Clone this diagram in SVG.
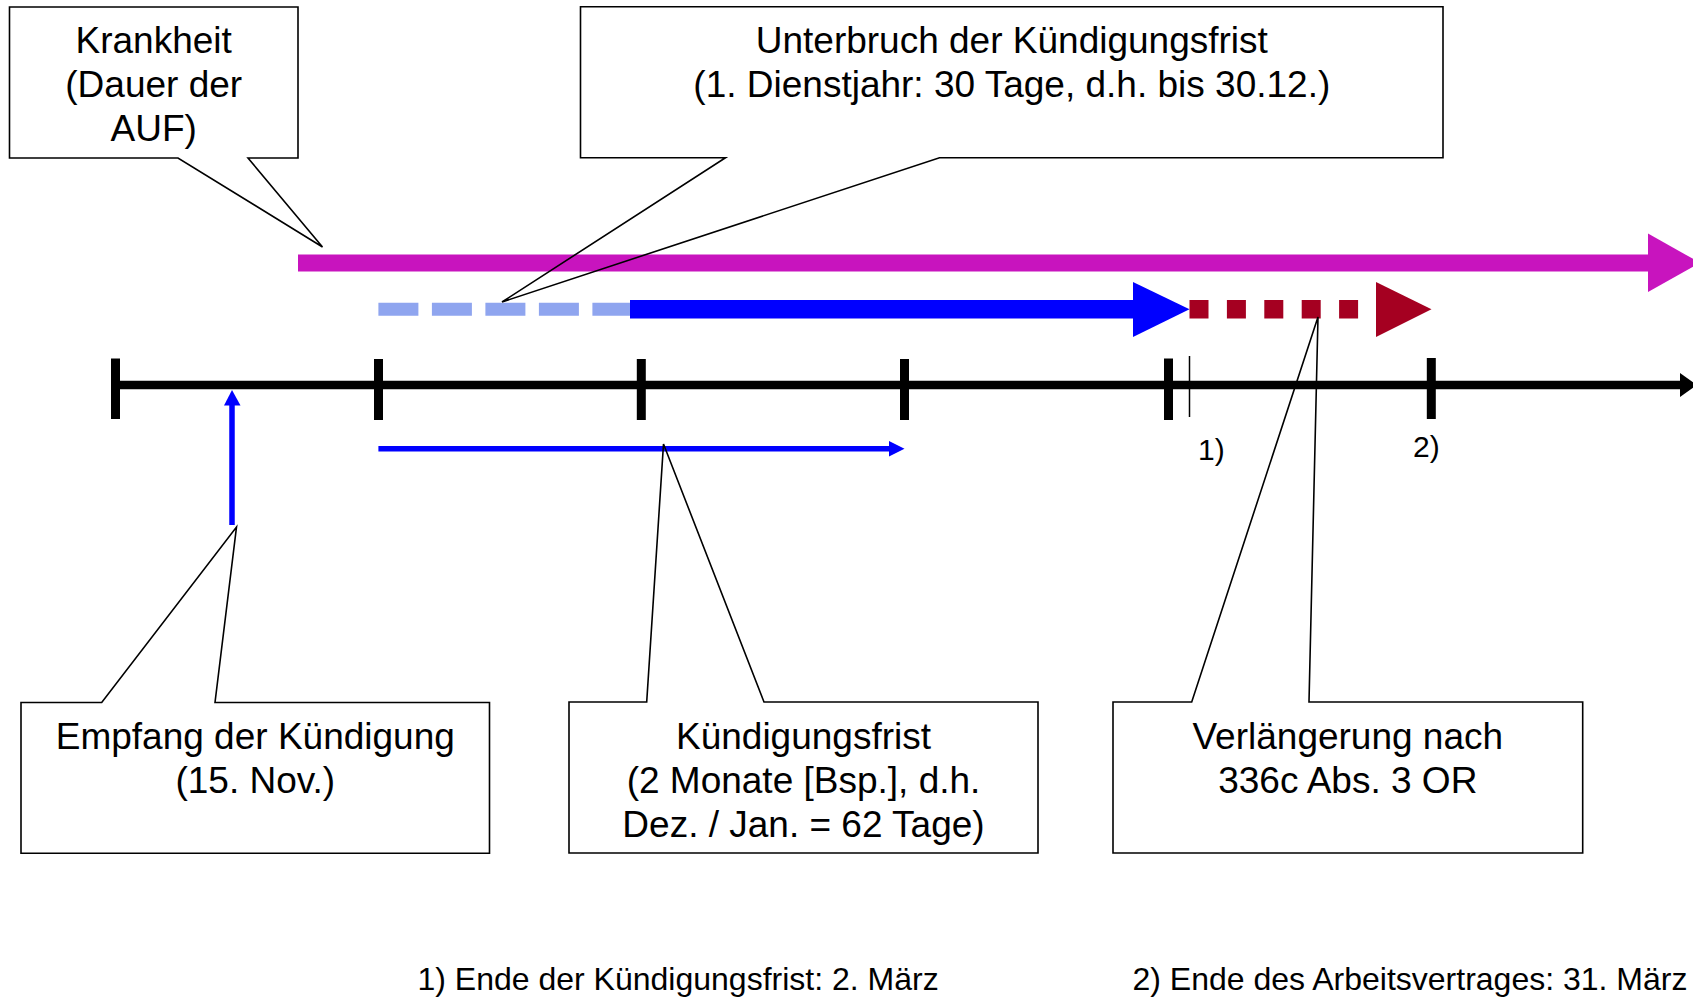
<svg xmlns="http://www.w3.org/2000/svg" width="1693" height="999" viewBox="0 0 1693 999">
<style>
.co{fill:none;stroke:#000;stroke-width:1.6;stroke-linejoin:miter}
.t{font-family:"Liberation Sans",Arial,Helvetica,sans-serif;font-size:37px;fill:#000;text-anchor:middle}
.n{font-family:"Liberation Sans",Arial,Helvetica,sans-serif;font-size:32px;fill:#000}
.tick{stroke:#000;stroke-width:9}
</style>
<rect width="1693" height="999" fill="#fff"/>
<g id="connectors">
  <!-- timeline -->
  <line x1="115.5" y1="385" x2="1682" y2="385" stroke="#000" stroke-width="8.5"/>
  <polygon points="1680,373 1697,385 1680,397" fill="#000"/>
  <line class="tick" x1="115.5" y1="358.5" x2="115.5" y2="419"/>
  <line class="tick" x1="378.5" y1="359" x2="378.5" y2="420"/>
  <line class="tick" x1="641.3" y1="359" x2="641.3" y2="420"/>
  <line class="tick" x1="904.5" y1="359" x2="904.5" y2="420"/>
  <line class="tick" x1="1168.5" y1="358.5" x2="1168.5" y2="420"/>
  <line class="tick" x1="1431.3" y1="358" x2="1431.3" y2="419"/>
  <line x1="1189.5" y1="356" x2="1189.5" y2="417" stroke="#000" stroke-width="1.5"/>
  <!-- magenta illness bar -->
  <rect x="298" y="254.5" width="1352" height="17" fill="#C814BE"/>
  <polygon points="1648,233.5 1700,262.8 1648,292" fill="#C814BE"/>
  <!-- light blue dashed interruption -->
  <line x1="378.4" y1="309.2" x2="630" y2="309.2" stroke="#8FA5EF" stroke-width="13" stroke-dasharray="40 13.5"/>
  <!-- blue notice period bar -->
  <rect x="630" y="300" width="505" height="18.5" fill="#0000FF"/>
  <polygon points="1133,282 1189.5,309.3 1133,337" fill="#0000FF"/>
  <!-- dark red extension -->
  <line x1="1189.5" y1="309.2" x2="1360" y2="309.2" stroke="#A50021" stroke-width="18.5" stroke-dasharray="19 18.4"/>
  <polygon points="1376,282 1431.5,309.3 1376,337" fill="#A50021"/>
  <!-- Kündigungsfrist thin arrow -->
  <line x1="378.4" y1="448.7" x2="891" y2="448.7" stroke="#0000FF" stroke-width="5.5"/>
  <polygon points="889,441 904.5,448.7 889,456.5" fill="#0000FF"/>
  <!-- Empfang vertical arrow -->
  <line x1="232" y1="525" x2="232" y2="403" stroke="#0000FF" stroke-width="5.5"/>
  <polygon points="224,405.5 232,390 240.5,405.5" fill="#0000FF"/>
</g>
<g id="krankheit">
  <path class="co" d="M9.5,7 H298 V158 H248 L322.5,247 L178,158 H9.5 Z"/>
  <text class="t" x="153.7" y="53">Krankheit</text>
  <text class="t" x="153.7" y="97">(Dauer der</text>
  <text class="t" x="153.7" y="141">AUF)</text>
</g>
<g id="unterbruch">
  <path class="co" d="M580.5,6.7 H1443 V157.7 H939.5 L502,302 L725.5,157.7 H580.5 Z"/>
  <text class="t" x="1011.8" y="53">Unterbruch der Kündigungsfrist</text>
  <text class="t" x="1011.8" y="97">(1. Dienstjahr: 30 Tage, d.h. bis 30.12.)</text>
</g>
<g id="empfang">
  <path class="co" d="M21,702.5 H101.7 L236.5,527 L215,702.5 H489.5 V853.3 H21 Z"/>
  <text class="t" x="255.3" y="749">Empfang der Kündigung</text>
  <text class="t" x="255.3" y="793">(15. Nov.)</text>
</g>
<g id="kuendigungsfrist">
  <path class="co" d="M569,702 H646.7 L663.5,444 L764,702 H1038 V853 H569 Z"/>
  <text class="t" x="803.5" y="749">Kündigungsfrist</text>
  <text class="t" x="803.5" y="793">(2 Monate [Bsp.], d.h.</text>
  <text class="t" x="803.5" y="837">Dez. / Jan. = 62 Tage)</text>
</g>
<g id="verlaengerung">
  <path class="co" d="M1113,702 H1191.7 L1318,317 L1309,702 H1582.7 V853 H1113 Z"/>
  <text class="t" x="1347.8" y="749">Verlängerung nach</text>
  <text class="t" x="1347.8" y="793">336c Abs. 3 OR</text>
</g>
<g id="labels">
  <text class="n" x="1198" y="460" style="font-size:30px">1)</text>
  <text class="n" x="1413" y="457" style="font-size:30px">2)</text>
  <text class="n" x="417.5" y="990">1) Ende der Kündigungsfrist: 2. März</text>
  <text class="n" x="1132.5" y="990">2) Ende des Arbeitsvertrages: 31. März</text>
</g>
</svg>
